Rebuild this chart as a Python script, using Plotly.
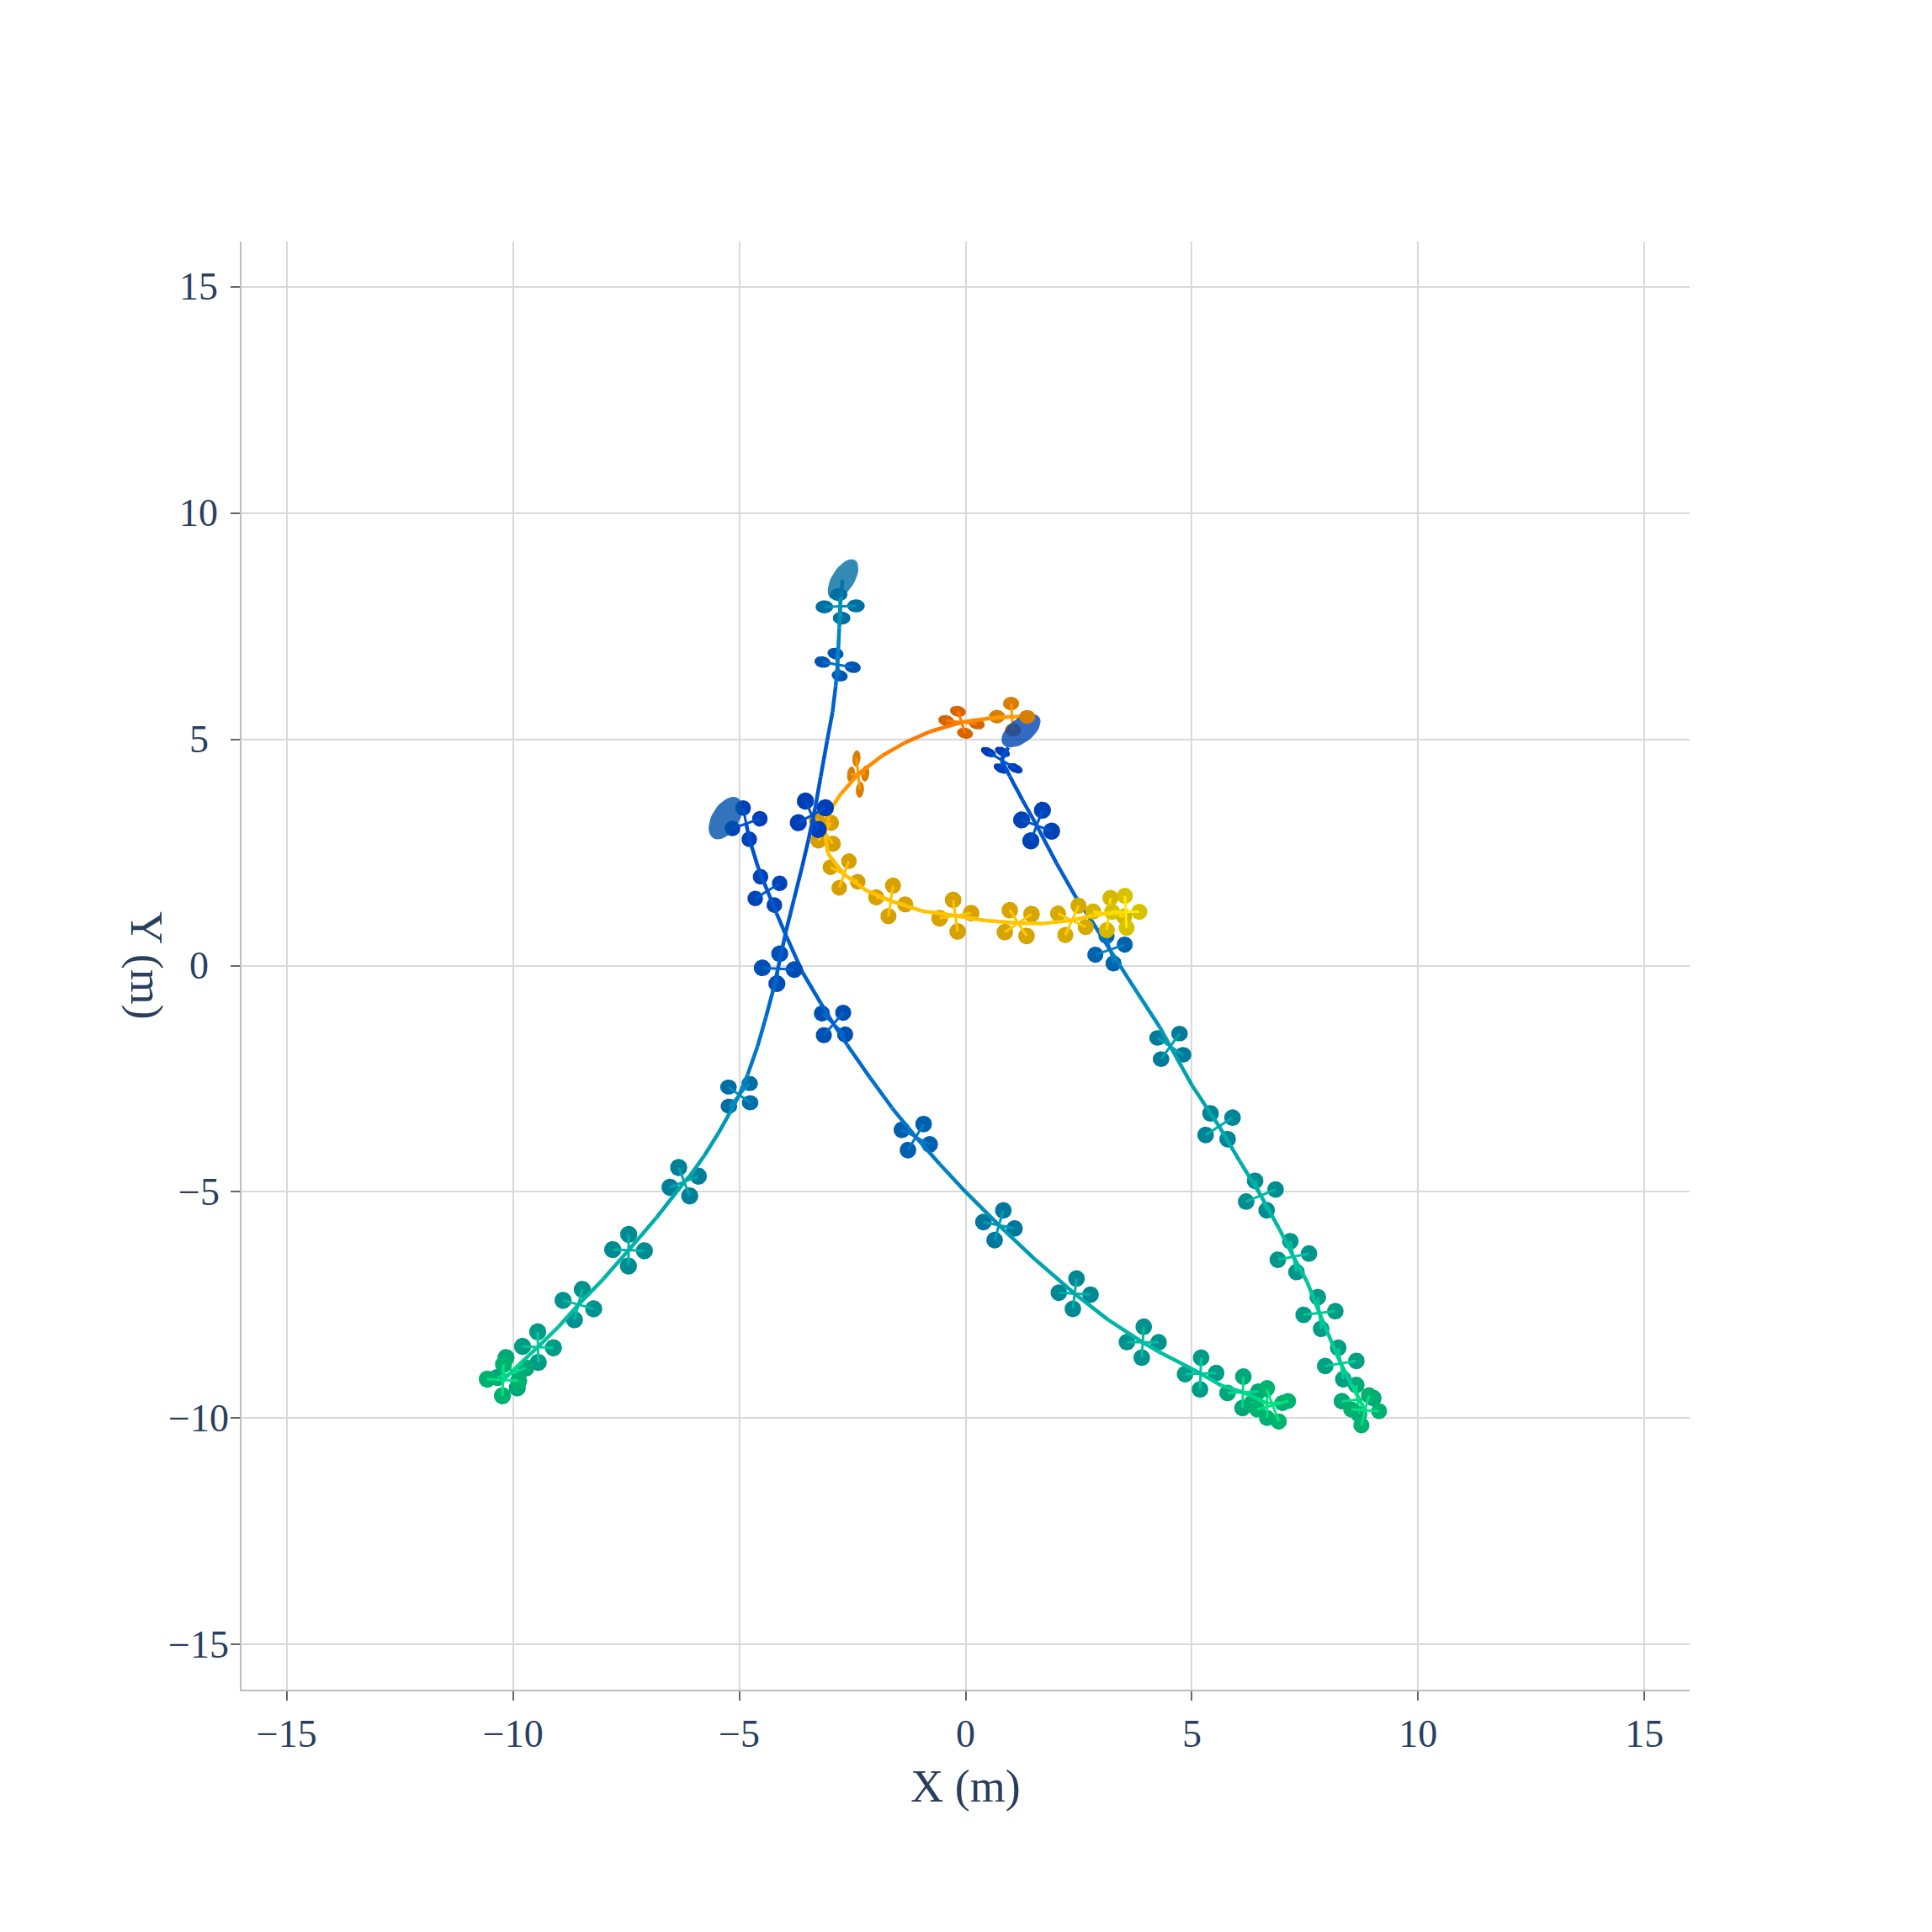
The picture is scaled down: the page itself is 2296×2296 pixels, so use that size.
import numpy as np
import plotly.graph_objects as go
from plotly.colors import sample_colorscale

COOL = [[0, "#00e87c"], [0.25, "#00c0a0"], [0.5, "#00a0b0"], [0.75, "#0078c8"], [1, "#0050d0"]]
WARM = [[0, "#ff7800"], [1, "#fff000"]]
TICKS = [-15, -10, -5, 0, 5, 10, 15]

# --- trajectory A (top to lower left)
a_x = [-2.721, -2.771, -2.792, -2.828, -2.870, -2.940, -3.060, -3.200, -3.326, -3.468, -3.610, -3.788, -3.966, -4.148,
       -4.244, -4.411, -4.597, -4.814, -5.0, -5.186, -5.464, -5.774, -6.084, -6.195, -6.827, -7.447, -8.004, -8.556,
       -8.996, -9.448, -9.801, -10.222]
a_y = [8.521, 7.938, 7.454, 6.650, 6.174, 5.605, 4.965, 4.182, 3.471, 2.795, 2.191, 1.479, 0.768, -0.075,
       -0.515, -1.135, -1.785, -2.405, -2.857, -3.210, -3.706, -4.202, -4.635, -4.759, -5.564, -6.289, -6.927, -7.491,
       -7.981, -8.427, -8.755, -9.158]
a_c = [0.6, 0.6, 0.68, 0.78, 0.88, 0.92, 0.95, 0.97, 1, 1, 0.97, 0.95, 0.92, 0.88,
       0.84, 0.8, 0.75, 0.7, 0.62, 0.56, 0.5, 0.47, 0.44, 0.42, 0.38, 0.36, 0.32, 0.28,
       0.24, 0.2, 0.12, 0.02]
# quad: centre x, y; arm 1 dx, dy; arm 2 dx, dy; rotor major, minor, tilt; colour value
aq_cx = [-2.771, -2.828, -3.397, -4.138, -5.0, -6.218, -7.447, -8.556, -9.448, -10.03, -10.222]
aq_cy = [7.938, 6.650, 3.322, -0.069, -2.857, -4.776, -6.289, -7.491, -8.430, -8.997, -9.158]
aq_ax = [-0.032, -0.046, -0.142, 0.031, 0.229, -0.122, 0.003, 0.087, -0.006, -0.124, 0.012]
aq_ay = [0.260, 0.245, 0.313, 0.331, 0.251, 0.313, 0.350, 0.335, 0.338, 0.335, 0.347]
aq_bx = [0.349, 0.334, 0.299, 0.353, 0.239, 0.313, 0.350, 0.338, 0.341, 0.316, 0.347]
aq_by = [0.011, -0.057, 0.164, -0.019, -0.173, 0.122, -0.012, -0.093, -0.015, 0.105, -0.019]
aq_r1 = [0.17, 0.156, 0.165, 0.165, 0.16, 0.165, 0.165, 0.165, 0.165, 0.165, 0.165]
aq_r2 = [0.125, 0.11, 0.165, 0.16, 0.145, 0.165, 0.165, 0.165, 0.165, 0.165, 0.165]
aq_t = [0, -10, 0, 0, 0, 0, 0, 0, 0, 0, 0]
aq_c = [0.6, 0.82, 1, 0.88, 0.62, 0.46, 0.36, 0.28, 0.2, 0.1, 0.02]

# --- trajectory B (left head to lower right)
b_x = [-4.848, -4.777, -4.592, -4.378, -4.179, -3.966, -3.606, -3.203, -2.918, -2.614, -2.119, -1.623, -1.096, -0.57,
       0.0, 0.738, 1.537, 2.411, 3.148, 3.91, 4.264, 5.193, 5.658, 6.129, 6.432, 6.68]
b_y = [3.137, 2.795, 2.191, 1.650, 1.160, 0.662, -0.144, -0.825, -1.29, -1.755, -2.467, -3.148, -3.793, -4.388,
       -5.0, -5.738, -6.494, -7.25, -7.826, -8.322, -8.530, -9.015, -9.282, -9.430, -9.560, -9.684]
b_c = [1, 1, 0.97, 0.95, 0.93, 0.92, 0.9, 0.88, 0.86, 0.84, 0.8, 0.77, 0.74, 0.68,
       0.62, 0.54, 0.46, 0.38, 0.33, 0.28, 0.26, 0.2, 0.16, 0.1, 0.05, 0.01]
bq_cx = [-4.848, -4.378, -2.918, -1.100, 0.738, 2.411, 3.915, 5.193, 6.129, 6.661, 6.785]
bq_cy = [3.137, 1.650, -1.29, -3.790, -5.738, -7.25, -8.322, -9.015, -9.430, -9.666, -9.715]
bq_ax = [-0.068, -0.153, 0.214, 0.173, 0.096, 0.04, 0.022, 0.012, 0.009, 0.0, -0.136]
bq_ay = [0.345, 0.313, 0.248, 0.288, 0.328, 0.335, 0.341, 0.35, 0.347, 0.33, 0.359]
bq_bx = [0.302, 0.270, 0.257, 0.307, 0.344, 0.35, 0.35, 0.344, 0.341, 0.34, 0.341]
bq_by = [0.107, 0.167, -0.232, -0.161, -0.071, -0.022, -0.003, 0.012, 0.015, 0.0, 0.093]
bq_r1 = [0.15, 0.15, 0.155, 0.16, 0.16, 0.16, 0.16, 0.16, 0.16, 0.155, 0.155]
bq_r2 = [0.15, 0.15, 0.155, 0.16, 0.16, 0.16, 0.16, 0.16, 0.16, 0.155, 0.155]
bq_t = [0, 0, 0, 0, 0, 0, 0, 0, 0, 0, 0]
bq_c = [0.98, 0.95, 0.86, 0.74, 0.54, 0.38, 0.28, 0.2, 0.1, 0.04, 0.01]

# --- trajectory C (centre head to lower right)
c_x = [0.942, 0.80, 0.977, 1.262, 1.568, 2.009, 2.435, 2.791, 3.196, 3.715, 4.285, 4.524, 5.007, 5.602, 6.06, 6.525,
       6.928, 7.244, 7.547, 7.82, 8.074, 8.291, 8.539, 8.83]
c_y = [4.822, 4.538, 4.182, 3.649, 3.101, 2.262, 1.515, 0.982, 0.341, -0.476, -1.351, -1.785, -2.652, -3.551, -4.325, -5.081,
       -5.812, -6.431, -6.989, -7.677, -8.29, -8.792, -9.281, -9.827]
c_c = [1, 1, 0.98, 0.96, 0.94, 0.9, 0.85, 0.8, 0.7, 0.6, 0.52, 0.5, 0.45, 0.42, 0.38, 0.33,
       0.28, 0.24, 0.21, 0.2, 0.18, 0.16, 0.1, 0.03]
cq_cx = [0.80, 1.570, 3.192, 4.524, 5.602, 6.525, 7.244, 7.82, 8.291, 8.663, 8.83]
cq_cy = [4.538, 3.095, 0.352, -1.785, -3.551, -5.081, -6.431, -7.677, -8.792, -9.591, -9.827]
cq_ax = [0.014, 0.128, -0.077, 0.204, -0.189, -0.127, -0.068, -0.037, -0.056, -0.031, 0.084]
cq_ay = [0.185, 0.338, 0.304, 0.282, 0.285, 0.325, 0.341, 0.35, 0.347, 0.322, 0.331]
cq_bx = [0.295, 0.331, 0.325, 0.282, 0.297, 0.325, 0.344, 0.35, 0.344, 0.347, 0.307]
cq_by = [-0.178, -0.124, 0.112, -0.186, 0.192, 0.133, 0.068, 0.04, 0.056, 0.034, -0.019]
cq_r1 = [0.155, 0.165, 0.155, 0.16, 0.16, 0.16, 0.16, 0.16, 0.16, 0.16, 0.155]
cq_r2 = [0.085, 0.165, 0.155, 0.15, 0.16, 0.16, 0.16, 0.16, 0.16, 0.16, 0.155]
cq_t = [-25, 0, 0, 0, 0, 0, 0, 0, 0, 0, 0]
cq_c = [1, 0.96, 0.7, 0.5, 0.42, 0.33, 0.24, 0.2, 0.16, 0.08, 0.03]

# --- trajectory D (orange loop)
d_x = [1.369, 1.027, 0.515, -0.09, -0.765, -1.334, -1.832, -2.373, -2.757, -2.97, -3.112, -3.041, -2.685, -2.188,
       -1.654, -0.979, -0.225, 0.444, 1.162, 1.724, 2.35, 2.826, 3.161, 3.538]
d_y = [5.498, 5.498, 5.463, 5.377, 5.178, 4.929, 4.644, 4.232, 3.791, 3.471, 2.959, 2.475, 2.013, 1.657,
       1.43, 1.209, 1.103, 0.996, 0.939, 0.932, 1.0, 1.11, 1.159, 1.174]
d_c = [0.33, 0.28, 0.15, 0.02, 0.0, 0.07, 0.14, 0.27, 0.4, 0.47, 0.6, 0.6, 0.6, 0.61,
       0.62, 0.63, 0.63, 0.65, 0.66, 0.67, 0.7, 0.75, 0.83, 0.97]
dq_cx = [1.027, -0.09, -2.373, -3.112, -2.685, -1.654, -0.225, 1.162, 2.35, 3.161, 3.539]
dq_cy = [5.498, 5.377, 4.232, 2.959, 2.013, 1.43, 1.103, 0.939, 1.0, 1.139, 1.188]
dq_ax = [-0.021, -0.078, -0.039, 0.139, 0.107, 0.05, -0.05, 0.295, 0.146, 0.04, -0.019]
dq_ay = [0.292, 0.242, 0.345, 0.196, 0.295, 0.338, 0.349, 0.199, 0.324, 0.356, 0.353]
dq_bx = [0.334, 0.338, 0.156, 0.178, 0.302, 0.32, 0.349, 0.185, 0.306, 0.341, 0.30]
dq_by = [-0.004, -0.036, 0.011, -0.267, -0.16, -0.078, 0.057, -0.285, -0.149, -0.056, 0.0]
dq_r1 = [0.155, 0.155, 0.155, 0.155, 0.15, 0.155, 0.16, 0.16, 0.155, 0.155, 0.155]
dq_r2 = [0.13, 0.105, 0.078, 0.155, 0.15, 0.155, 0.16, 0.16, 0.155, 0.155, 0.155]
dq_t = [0, -12, 85, 0, 0, 0, 0, 0, 0, 0, 0]
dq_c = [0.28, 0.02, 0.27, 0.6, 0.6, 0.62, 0.63, 0.66, 0.7, 0.83, 0.97]

# --- translucent end ellipses: centre x, y, half axes, tilt
h_x = [-2.707, -5.303, 1.226]
h_y = [8.535, 3.258, 5.192]
h_r1 = [0.50, 0.52, 0.50]
h_r2 = [0.25, 0.30, 0.27]
h_t = [58, 58, 37]
h_col = ["rgba(0,110,160,0.8)", "rgba(0,80,170,0.8)", "rgba(0,70,180,0.8)"]

ROTOR_GROW = 1.15
ROTOR_SHADE = {id(COOL): (1.0, 0.78, 0.88), id(WARM): (0.84, 0.83, 1.0)}
THETA = np.linspace(0, 2 * np.pi, 33)


def ellipse(cx, cy, r1, r2, tilt):
    t = np.radians(tilt)
    ex, ey = r1 * np.cos(THETA), r2 * np.sin(THETA)
    return cx + ex * np.cos(t) - ey * np.sin(t), cy + ex * np.sin(t) + ey * np.cos(t)


def colour(scale, c):
    return sample_colorscale(scale, [c], colortype="rgb")[0]


def darker(scale, rgb):
    vals = [float(v) for v in rgb[rgb.index("(") + 1:-1].split(",")]
    return "rgb(%d,%d,%d)" % tuple(v * k for v, k in zip(vals, ROTOR_SHADE[id(scale)]))


fig = go.Figure()


def add_quads(scale, cx, cy, ax, ay, bx, by, r1, r2, tilt, cv):
    for i in range(len(cx)):
        line_col = colour(scale, cv[i])
        xs, ys = [], []
        for sx, sy in ((ax[i], ay[i]), (-ax[i], -ay[i]), (bx[i], by[i]), (-bx[i], -by[i])):
            ex, ey = ellipse(cx[i] + sx, cy[i] + sy, r1[i] * ROTOR_GROW, r2[i] * ROTOR_GROW, tilt[i])
            xs += list(ex) + [None]
            ys += list(ey) + [None]
        fig.add_trace(go.Scatter(x=xs, y=ys, mode="lines", fill="toself", fillcolor=darker(scale, line_col),
                                 line=dict(width=0), hoverinfo="skip", showlegend=False))
        fig.add_trace(go.Scatter(
            x=[cx[i] - ax[i], cx[i] + ax[i], None, cx[i] - bx[i], cx[i] + bx[i]],
            y=[cy[i] - ay[i], cy[i] + ay[i], None, cy[i] - by[i], cy[i] + by[i]],
            mode="lines", line=dict(color=line_col, width=3), hoverinfo="skip", showlegend=False))


def add_path(scale, x, y, cv):
    for i in range(len(x) - 1):
        fig.add_trace(go.Scatter(x=x[i:i + 2], y=y[i:i + 2], mode="lines",
                                 line=dict(color=colour(scale, cv[i]), width=4.5), hoverinfo="skip", showlegend=False))


add_quads(COOL, cq_cx, cq_cy, cq_ax, cq_ay, cq_bx, cq_by, cq_r1, cq_r2, cq_t, cq_c)
add_path(COOL, c_x, c_y, c_c)
add_quads(WARM, dq_cx, dq_cy, dq_ax, dq_ay, dq_bx, dq_by, dq_r1, dq_r2, dq_t, dq_c)
add_path(WARM, d_x, d_y, d_c)
add_quads(COOL, bq_cx, bq_cy, bq_ax, bq_ay, bq_bx, bq_by, bq_r1, bq_r2, bq_t, bq_c)
add_path(COOL, b_x, b_y, b_c)
add_quads(COOL, aq_cx, aq_cy, aq_ax, aq_ay, aq_bx, aq_by, aq_r1, aq_r2, aq_t, aq_c)
add_path(COOL, a_x, a_y, a_c)

for i in range(len(h_x)):
    ex, ey = ellipse(h_x[i], h_y[i], h_r1[i], h_r2[i], h_t[i])
    fig.add_trace(go.Scatter(x=ex, y=ey, mode="lines", fill="toself", fillcolor=h_col[i],
                             line=dict(width=0), hoverinfo="skip", showlegend=False))

# the right rotor of the last orange quad sits in front of the blue ellipse
ex, ey = ellipse(dq_cx[0] + dq_bx[0], dq_cy[0] + dq_by[0], dq_r1[0] * ROTOR_GROW, dq_r2[0] * ROTOR_GROW, dq_t[0])
fig.add_trace(go.Scatter(x=ex, y=ey, mode="lines", fill="toself", fillcolor=darker(WARM, colour(WARM, dq_c[0])),
                         line=dict(width=0), hoverinfo="skip", showlegend=False))

axis = dict(range=[-16, 16], tickvals=TICKS, showgrid=True, gridcolor="#d9d9d9", gridwidth=2, zeroline=False,
            showline=True, linecolor="#bdbdbd", linewidth=2, ticks="outside", ticklen=11, tickwidth=1.5,
            tickcolor="#666666", tickfont=dict(size=46))

# the y tick labels of the reference are centred on one vertical, not right-aligned
y_labels = [dict(text=("\u2212%d" % -v) if v < 0 else str(v), xref="paper", yref="y", x=-0.0296, y=v, showarrow=False,
                 xanchor="center", yanchor="middle", font=dict(size=46, color="#2a3f5f")) for v in TICKS]

fig.update_layout(
    width=2296, height=2296, margin=dict(l=279, r=296, t=279, b=296),
    paper_bgcolor="white", plot_bgcolor="white", showlegend=False,
    font=dict(family="Liberation Serif", size=46, color="#2a3f5f"),
    xaxis=dict(title=dict(text="X (m)", font=dict(size=54), standoff=18), **axis),
    yaxis=dict(showticklabels=False, **axis),
    annotations=y_labels + [dict(text="Y (m)", textangle=90, xref="paper", yref="paper", x=-0.0655, y=0.5,
                                 showarrow=False, xanchor="center", yanchor="middle",
                                 font=dict(size=54, color="#2a3f5f"))],
)
fig.write_html("out.html")
